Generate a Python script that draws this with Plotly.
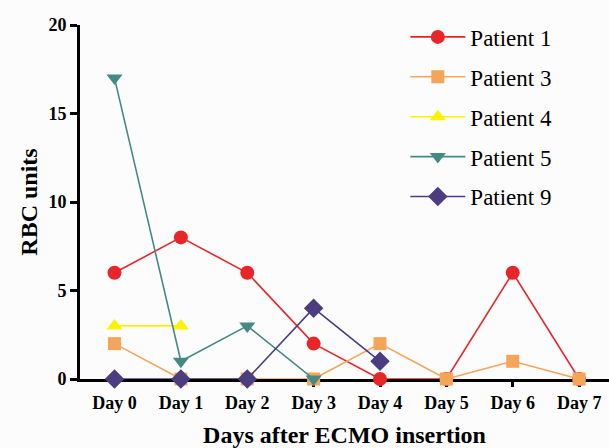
import plotly.graph_objects as go

days = ["Day 0", "Day 1", "Day 2", "Day 3", "Day 4", "Day 5", "Day 6", "Day 7"]
p1 = [6, 8, 6, 2, 0, 0, 6, 0]
p3 = [2, 0, 0, 0, 2, 0, 1, 0]
p4 = [3, 3]
p5 = [17, 1, 3, 0]
p9 = [0, 0, 0, 4, 1]
yticks = [0, 5, 10, 15, 20]

series = [
    ("Patient 1", p1, "#E8262A", "circle", 14),
    ("Patient 3", p3, "#F5A55A", "square", 13),
    ("Patient 4", p4, "#FFF200", "triangle-up", 14),
    ("Patient 5", p5, "#448A84", "triangle-down", 14),
    ("Patient 9", p9, "#4B3D80", "diamond", 15),
]

fig = go.Figure()
for i, (name, vals, col, sym, sz) in enumerate(series):
    fig.add_trace(go.Scatter(
        x=days[:len(vals)], y=vals, name=name, mode="lines+markers",
        line=dict(color=col, width=1.6),
        marker=dict(color=col, symbol=sym, size=sz),
        cliponaxis=False, legendgroup=str(i)))

font_fam = "Liberation Serif, Times New Roman, serif"
fig.update_layout(
    width=609, height=448,
    margin=dict(l=80, r=0, t=25, b=69, autoexpand=False),
    paper_bgcolor="#FCFCFC", plot_bgcolor="#FCFCFC",
    font=dict(family=font_fam, color="black"),
    legend=dict(x=0.615, y=1.027, xanchor="left", yanchor="top",
                font=dict(size=23, family=font_fam, color="black"),
                tracegroupgap=7, itemwidth=55, bgcolor="rgba(0,0,0,0)"),
    xaxis=dict(
        type="category", categoryorder="array", categoryarray=days,
        range=[-0.52, 7.45], showline=True, linecolor="black", linewidth=3,
        ticks="outside", ticklen=5, tickwidth=3, tickcolor="black",
        showgrid=False, zeroline=False, layer="below traces", automargin=False,
        tickfont=dict(size=18, family=font_fam, color="black", weight="bold"),
        title=dict(text="<b>Days after ECMO insertion</b>", standoff=16,
                   font=dict(size=24, family=font_fam, color="black")),
    ),
    yaxis=dict(
        range=[0, 20], tickvals=yticks, showline=True, linecolor="black", linewidth=3,
        ticks="outside", ticklen=7, tickwidth=3, tickcolor="black",
        showgrid=False, zeroline=False, layer="below traces", automargin=False,
        tickfont=dict(size=18, family=font_fam, color="black", weight="bold"),
        title=dict(text="<b>RBC units</b>", standoff=5,
                   font=dict(size=24, family=font_fam, color="black")),
    ),
)
fig.write_html("out.html", config={"displayModeBar": False},
               post_script="document.body.style.margin='0';")
